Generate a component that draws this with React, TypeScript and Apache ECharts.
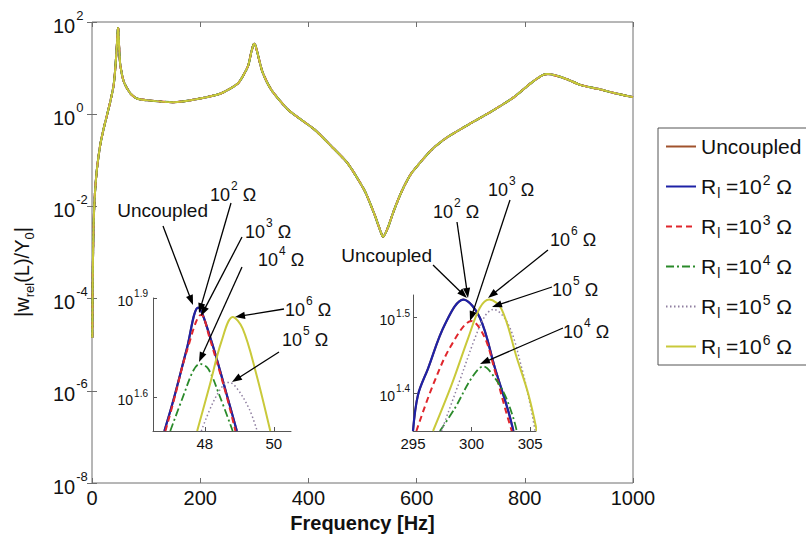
import React, { useEffect, useRef } from "react";
import * as echarts from "echarts";

const FONT = "'Liberation Sans', Arial, Helvetica, sans-serif";

// ---------------- data ----------------
const seriesNames = ["Uncoupled", "Rl=1e2", "Rl=1e3", "Rl=1e4", "Rl=1e5", "Rl=1e6"];
const resistanceExponents = [0, 2, 3, 4, 5, 6];
const seriesColors = ["#a0522d", "#1e22a6", "#e0262c", "#2a8a2a", "#8f7fa0", "#c9c93a"];

// main y-axis decades (exponents of 10)
const mainYExponents = [-8, -6, -4, -2, 0, 2];
const mainXTicks = [0, 200, 400, 600, 800, 1000];

// main frequency response (all six curves overlap at this scale)
const mainFreq = [0.5, 1.2, 2, 3.2, 5.5, 9, 15, 21.6, 27.7, 33.8, 40, 43, 46, 47.3, 48, 48.8, 50.5, 52.3, 58.6, 70.8,
  83, 103, 150, 195, 238, 270, 288, 294, 297.5, 299.7, 302, 306, 315, 332, 363, 412, 442, 473, 504, 522,
  533, 538, 546, 558, 573, 590, 627, 658, 701, 737, 780, 812, 832, 843, 873, 904, 935, 965, 1000];
const mainLog10 = [-4.85, -3.7, -3.0, -2.3, -1.7, -1.2, -0.68, -0.31, -0.02, 0.27, 0.63, 0.99, 1.5, 1.78, 1.87, 1.84, 1.36, 1.07, 0.71, 0.45,
  0.34, 0.3, 0.26, 0.33, 0.45, 0.67, 1.03, 1.32, 1.48, 1.53, 1.5, 1.32, 0.92, 0.52, 0.09, -0.34, -0.69, -1.07, -1.66, -2.17,
  -2.53, -2.66, -2.49, -2.09, -1.66, -1.29, -0.78, -0.49, -0.19, 0.05, 0.37, 0.68, 0.84, 0.87, 0.78, 0.63, 0.55, 0.46, 0.37];

// inset 1 (around 48 Hz): [frequency, log10 amplitude]
const in1Uncoupled = [[46.83, 1.5], [47.1, 1.596], [47.48, 1.747], [47.81, 1.871], [48.14, 1.788], [48.62, 1.616], [48.93, 1.5]];
const in1R2 = [[46.83, 1.5], [47.1, 1.596], [47.48, 1.747], [47.81, 1.871], [48.14, 1.788], [48.62, 1.616], [48.93, 1.5]];
const in1R3 = [[46.86, 1.5], [47.1, 1.59], [47.48, 1.74], [47.9, 1.85], [48.14, 1.78], [48.62, 1.61], [48.89, 1.5]];
const in1R4 = [[47.0, 1.5], [47.38, 1.606], [47.67, 1.682], [47.86, 1.702], [48.1, 1.687], [48.43, 1.606], [48.81, 1.5]];
const in1R5 = [[47.9, 1.5], [48.24, 1.586], [48.57, 1.642], [48.71, 1.646], [48.95, 1.626], [49.29, 1.566], [49.52, 1.5]];
const in1R6 = [[47.78, 1.5], [48.14, 1.636], [48.48, 1.768], [48.81, 1.843], [49.1, 1.808], [49.48, 1.677], [49.9, 1.5]];

// inset 2 (around 300 Hz)
const in2Uncoupled = [[295.0, 1.35], [295.43, 1.398], [296.29, 1.433], [297.72, 1.491], [299.3, 1.524], [300.71, 1.5], [302.0, 1.433], [303.14, 1.376], [303.57, 1.35]];
const in2R2 = [[295.0, 1.35], [295.43, 1.398], [296.29, 1.433], [297.72, 1.491], [299.3, 1.524], [300.71, 1.5], [302.0, 1.433], [303.14, 1.376], [303.57, 1.35]];
const in2R3 = [[295.29, 1.35], [296.71, 1.411], [298.29, 1.464], [300.0, 1.4955], [301.14, 1.473], [302.0, 1.429], [302.86, 1.38], [303.43, 1.35]];
const in2R4 = [[297.29, 1.35], [298.57, 1.38], [300.0, 1.42], [301.0, 1.4355], [302.0, 1.42], [302.86, 1.397], [303.57, 1.367], [303.86, 1.35]];
const in2R5 = [[297.43, 1.35], [298.86, 1.411], [300.29, 1.473], [301.14, 1.502], [301.86, 1.511], [303.14, 1.491], [304.29, 1.433], [305.0, 1.385], [305.43, 1.35]];
const in2R6 = [[296.71, 1.35], [298.29, 1.411], [299.71, 1.473], [300.71, 1.513], [301.51, 1.524], [302.57, 1.511], [303.86, 1.447], [304.86, 1.398], [305.57, 1.35]];

const inset1Data = [in1Uncoupled, in1R2, in1R3, in1R4, in1R5, in1R6];
const inset2Data = [in2Uncoupled, in2R2, in2R3, in2R4, in2R5, in2R6];

const inset1YLabels = [1.6, 1.9];
const inset1XLabels = [48, 50];
const inset2YLabels = [1.4, 1.5];

// ---------------- styles ----------------
const lineTypes: any[] = ["solid", "solid", [6, 4], [8, 3, 2, 3], [1.5, 2.5], "solid"];
const insetWidths = [2, 2.2, 2, 1.8, 1.5, 2];

const expRich = (big: number, small: number, pad: number) => ({
  b: { fontSize: big, fontFamily: FONT, color: "#111", verticalAlign: "bottom" },
  sup: { fontSize: small, fontFamily: FONT, color: "#111", verticalAlign: "top", padding: [0, 0, pad, 1] },
});

function arrow(x1: number, y1: number, x2: number, y2: number) {
  const dx = x2 - x1, dy = y2 - y1;
  const L = Math.hypot(dx, dy);
  const ux = dx / L, uy = dy / L;
  const hl = 10, hw = 3.6;
  const bx = x2 - ux * hl, by = y2 - uy * hl;
  return [
    { type: "line", z: 100, shape: { x1, y1, x2: bx + ux * 2, y2: by + uy * 2 }, style: { stroke: "#000", lineWidth: 1.3 } },
    { type: "polygon", z: 100, shape: { points: [[x2, y2], [bx - uy * hw, by + ux * hw], [bx + uy * hw, by - ux * hw]] }, style: { fill: "#000" } },
  ];
}

const annRich = {
  b: { fontSize: 18, fontFamily: FONT, fill: "#111", verticalAlign: "bottom" },
  sup: { fontSize: 12, fontFamily: FONT, fill: "#111", verticalAlign: "top", padding: [0, 0, 12, 1] },
};
function ohm(x: number, y: number, e: number) {
  return { type: "text", z: 100, x, y: y - 3, style: { text: `{b|10}{sup|${e}}{b| Ω}`, rich: annRich, align: "left", verticalAlign: "middle" } };
}
function plain(x: number, y: number, t: string, align: string) {
  return { type: "text", z: 100, x, y, style: { text: t, fontSize: 19, fontFamily: FONT, fill: "#111", align, verticalAlign: "middle" } };
}

export default function App() {
  const ref = useRef<HTMLDivElement>(null);
  useEffect(() => {
    if (!ref.current) return;
    document.body.style.margin = "0";
    const chart = echarts.init(ref.current, undefined, { renderer: "svg" });

    const mainData = mainFreq.map((f, i) => [f, Math.pow(10, mainLog10[i])]);
    const series: any[] = [];
    seriesNames.forEach((name, i) => {
      series.push({
        type: "line", name, xAxisIndex: 0, yAxisIndex: 0, data: mainData, symbol: "none",
        smooth: 0.2, z: 2 + i, clip: true,
        lineStyle: { color: seriesColors[i], width: 2, type: lineTypes[i] }, itemStyle: { color: seriesColors[i] },
      });
    });
    seriesNames.forEach((name, i) => {
      series.push({
        type: "line", name, xAxisIndex: 2, yAxisIndex: 2, data: inset1Data[i], symbol: "none",
        smooth: 0.35, z: 2 + i, clip: true,
        lineStyle: { color: seriesColors[i], width: insetWidths[i], type: lineTypes[i] }, itemStyle: { color: seriesColors[i] },
      });
      series.push({
        type: "line", name, xAxisIndex: 3, yAxisIndex: 3, data: inset2Data[i], symbol: "none",
        smooth: 0.35, z: 2 + i, clip: true,
        lineStyle: { color: seriesColors[i], width: insetWidths[i], type: lineTypes[i] }, itemStyle: { color: seriesColors[i] },
      });
    });

    const legendText = (name: string) => {
      const i = seriesNames.indexOf(name);
      if (i === 0) return "{t|Uncoupled}";
      return `{t|R}{sub|l}{t| =10}{sup|${resistanceExponents[i]}}{t| Ω}`;
    };

    const axisGray = "#6e6e6e";
    const insetAxisLine = { show: true, lineStyle: { color: "#555", width: 1 } };

    const option: any = {
      animation: false,
      backgroundColor: "#fff",
      grid: [
        { left: 92, top: 22, width: 541, height: 461, show: true, borderColor: axisGray, borderWidth: 1, backgroundColor: "transparent" },
        { left: 153, top: 298, width: 138, height: 133 },
        { left: 413, top: 295, width: 123, height: 136 },
      ],
      xAxis: [
        {
          gridIndex: 0, type: "value", min: mainXTicks[0], max: mainXTicks[mainXTicks.length - 1], interval: 200,
          axisLine: { show: false }, splitLine: { show: false },
          axisTick: { inside: true, length: 5, lineStyle: { color: axisGray } },
          axisLabel: { fontSize: 20, fontFamily: FONT, color: "#111", margin: 5, formatter: (v: number) => String(v) },
          name: "Frequency [Hz]", nameLocation: "middle", nameGap: 28,
          nameTextStyle: { fontSize: 20, fontWeight: "bold", fontFamily: FONT, color: "#111" },
        },
        {
          gridIndex: 0, type: "value", position: "top", min: 0, max: 1000, interval: 200,
          axisLine: { show: false }, splitLine: { show: false }, axisLabel: { show: false },
          axisTick: { inside: true, length: 5, lineStyle: { color: axisGray } },
        },
        {
          gridIndex: 1, type: "value", min: 46.5, max: 50.5,
          axisLine: insetAxisLine, splitLine: { show: false },
          axisTick: { inside: true, length: 4, customValues: inset1XLabels, lineStyle: { color: "#555" } },
          axisLabel: { customValues: inset1XLabels, fontSize: 15, fontFamily: FONT, color: "#111", margin: 5 },
        },
        {
          gridIndex: 2, type: "value", min: 295, max: 305.5, interval: 5,
          axisLine: insetAxisLine, splitLine: { show: false },
          axisTick: { inside: true, length: 4, lineStyle: { color: "#555" } },
          axisLabel: { fontSize: 15, fontFamily: FONT, color: "#111", margin: 5, showMaxLabel: false,
            formatter: (v: number) => (v % 5 === 0 ? String(v) : "") },
        },
      ],
      yAxis: [
        {
          gridIndex: 0, type: "log", logBase: 10,
          min: Math.pow(10, mainYExponents[0]), max: Math.pow(10, mainYExponents[mainYExponents.length - 1]), interval: 2,
          axisLine: { show: false }, splitLine: { show: false }, minorTick: { show: false },
          axisTick: { inside: true, length: 5, lineStyle: { color: axisGray } },
          axisLabel: {
            align: "left", margin: 39,
            formatter: (v: number) => `{b|10}{sup|${Math.round(Math.log10(v))}}`,
            rich: expRich(20, 13, 14),
          },
        },
        {
          gridIndex: 0, type: "log", logBase: 10, position: "right", min: 1e-8, max: 100, interval: 2,
          axisLine: { show: false }, splitLine: { show: false }, axisLabel: { show: false },
          axisTick: { inside: true, length: 5, lineStyle: { color: axisGray } },
        },
        {
          gridIndex: 1, type: "value", min: 1.5, max: 1.9,
          axisLine: insetAxisLine, splitLine: { show: false },
          axisTick: { inside: true, length: 4, customValues: inset1YLabels, lineStyle: { color: "#555" } },
          axisLabel: {
            customValues: inset1YLabels, margin: 5,
            formatter: (v: number) => `{b|10}{sup|${v.toFixed(1)}}`,
            rich: expRich(14, 10, 9),
          },
        },
        {
          gridIndex: 2, type: "value", min: 1.35, max: 1.53,
          axisLine: insetAxisLine, splitLine: { show: false },
          axisTick: { inside: true, length: 4, customValues: inset2YLabels, lineStyle: { color: "#555" } },
          axisLabel: {
            customValues: inset2YLabels, margin: 3,
            formatter: (v: number) => `{b|10}{sup|${v.toFixed(1)}}`,
            rich: expRich(14, 10, 9),
          },
        },
      ],
      legend: {
        data: seriesNames, orient: "vertical", left: 658, top: 128,
        itemWidth: 30, itemHeight: 14, itemGap: 13, padding: [5, 14, 5, 7],
        borderColor: "#555", borderWidth: 1, backgroundColor: "#fff", selectedMode: false,
        itemStyle: { opacity: 0, borderWidth: 0 },
        formatter: legendText,
        textStyle: {
          fontFamily: FONT, fontSize: 21, color: "#111", lineHeight: 27,
          rich: {
            t: { fontSize: 21, fontFamily: FONT, color: "#111", lineHeight: 27 },
            sup: { fontSize: 14, fontFamily: FONT, color: "#111", verticalAlign: "top", padding: [0, 0, 14, 1] },
            sub: { fontSize: 14, fontFamily: FONT, color: "#111", verticalAlign: "bottom", padding: [12, 0, 0, 1] },
          },
        },
      },
      graphic: [
        {
          type: "text", z: 100, x: 24, y: 272, rotation: Math.PI / 2,
          style: {
            text: "{b||w}{sub|rel}{b|(L)/Y}{sub|0}{b||}", align: "center", verticalAlign: "middle",
            rich: {
              b: { fontSize: 20, fontFamily: FONT, fill: "#111", verticalAlign: "top" },
              sub: { fontSize: 13, fontFamily: FONT, fill: "#111", verticalAlign: "bottom", padding: [11, 0, 0, 0] },
            },
          },
        },
        // inset 1 annotations
        plain(208, 210, "Uncoupled", "right"),
        ...arrow(163, 226, 193, 305),
        ohm(210, 195, 2),
        ...arrow(231, 203, 199, 313),
        ohm(245, 232, 3),
        ...arrow(242, 237, 201, 316),
        ohm(258, 260, 4),
        ...arrow(242, 267, 199, 362),
        ohm(285, 310, 6),
        ...arrow(284, 309, 235, 317),
        ohm(282, 340, 5),
        ...arrow(279, 352, 232, 382),
        // inset 2 annotations
        plain(432, 255, "Uncoupled", "right"),
        ...arrow(433, 265, 467, 298),
        ohm(433, 212, 2),
        ...arrow(457, 222, 468, 298),
        ohm(488, 190, 3),
        ...arrow(510, 200, 470, 321),
        ohm(550, 240, 6),
        ...arrow(548, 250, 488, 298),
        ohm(552, 290, 5),
        ...arrow(552, 287, 492, 307),
        ohm(563, 332, 4),
        ...arrow(563, 328, 480, 364),
      ],
      series,
    };
    chart.setOption(option);
    return () => chart.dispose();
  }, []);
  return <div ref={ref} style={{ width: 806, height: 540 }} />;
}
